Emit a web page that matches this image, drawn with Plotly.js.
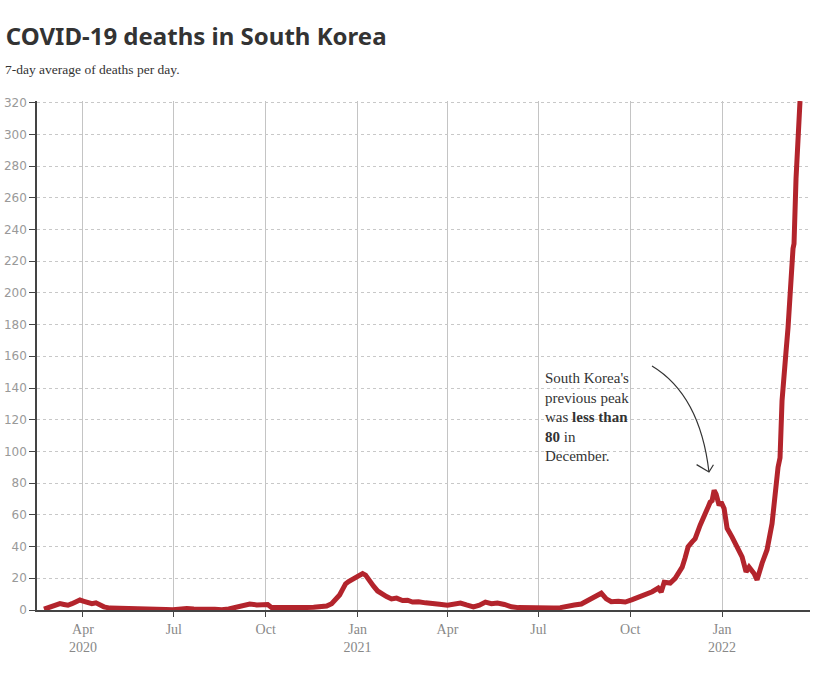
<!DOCTYPE html>
<html>
<head>
<meta charset="utf-8">
<script src="https://cdn.plot.ly/plotly-3.0.1.min.js"></script>
<style>
  html, body { margin: 0; padding: 0; background: #fff; }
  #chart { width: 832px; height: 674px; }
</style>
</head>
<body>
<div id="chart"></div>
<script>
// 7-day average of deaths per day
const dates = [
  '2020-02-22', '2020-02-26', '2020-03-01', '2020-03-05', '2020-03-09', '2020-03-13', '2020-03-17',
  '2020-03-21', '2020-03-25', '2020-03-29', '2020-04-02', '2020-04-06', '2020-04-10', '2020-04-14',
  '2020-04-18', '2020-04-22', '2020-04-28', '2020-05-05', '2020-05-12', '2020-05-19', '2020-05-26',
  '2020-06-02', '2020-06-09', '2020-06-16', '2020-06-23', '2020-06-30', '2020-07-07', '2020-07-14',
  '2020-07-21', '2020-07-28', '2020-08-04', '2020-08-11', '2020-08-18', '2020-08-25', '2020-09-01',
  '2020-09-08', '2020-09-15', '2020-09-22', '2020-09-29', '2020-10-03', '2020-10-07', '2020-10-14',
  '2020-10-21', '2020-10-28', '2020-11-04', '2020-11-11', '2020-11-18', '2020-11-25', '2020-12-01',
  '2020-12-06', '2020-12-11', '2020-12-14', '2020-12-17', '2020-12-20', '2020-12-23', '2020-12-27',
  '2020-12-31', '2021-01-03', '2021-01-06', '2021-01-09', '2021-01-13', '2021-01-17', '2021-01-21',
  '2021-01-25', '2021-01-30', '2021-02-04', '2021-02-09', '2021-02-15', '2021-02-20', '2021-02-25',
  '2021-03-03', '2021-03-10', '2021-03-17', '2021-03-24', '2021-04-01', '2021-04-07', '2021-04-14',
  '2021-04-20', '2021-04-27', '2021-05-03', '2021-05-09', '2021-05-15', '2021-05-21', '2021-05-28',
  '2021-06-04', '2021-06-11', '2021-06-18', '2021-06-25', '2021-07-02', '2021-07-09', '2021-07-16',
  '2021-07-23', '2021-07-30', '2021-08-06', '2021-08-13', '2021-08-20', '2021-08-26', '2021-09-02',
  '2021-09-07', '2021-09-12', '2021-09-19', '2021-09-26', '2021-10-03', '2021-10-09', '2021-10-16',
  '2021-10-23', '2021-10-29', '2021-11-01', '2021-11-04', '2021-11-10', '2021-11-15', '2021-11-19',
  '2021-11-22', '2021-11-25', '2021-11-28', '2021-12-02', '2021-12-05', '2021-12-10', '2021-12-15',
  '2021-12-18', '2021-12-20', '2021-12-22', '2021-12-24', '2021-12-26', '2021-12-29', '2021-12-31',
  '2022-01-03', '2022-01-06', '2022-01-11', '2022-01-16', '2022-01-21', '2022-01-25', '2022-01-28',
  '2022-02-02', '2022-02-05', '2022-02-10', '2022-02-15', '2022-02-20', '2022-02-23', '2022-02-26',
  '2022-02-28', '2022-03-02', '2022-03-06', '2022-03-08', '2022-03-13', '2022-03-14', '2022-03-16',
  '2022-03-20'
]
const deaths = [
  0.5, 1.5, 2.5, 3.5, 4, 3.5, 3,
  4, 5.5, 6.3, 5.5, 4.6, 4, 4.5,
  3, 2, 1.2, 1, 1.2, 0.6, 0.3,
  0.6, 0.4, 0.5, 0.3, 0.2, 0.8, 0.9,
  0.6, 0.8, 0.5, 0.4, 0.1, 0.6, 1.8,
  2.2, 3.8, 3.2, 3, 3.5, 1.5, 1.4,
  1.8, 1.2, 1.5, 1.6, 1.8, 2.2, 2.5,
  4, 7, 9.5, 13, 16.5, 18, 19.5,
  21, 22.5, 23, 22, 18, 15, 12,
  10, 8.5, 7, 7.5, 6, 6.2, 5,
  5.2, 4.5, 4.4, 3.6, 3, 3.4, 4.4,
  3.2, 2, 3, 5, 4, 4.4, 3.5,
  2, 1.5, 1.3, 1.2, 1.4, 1.3, 1.2,
  1.5, 2.6, 3.2, 3.8, 6, 7.8, 10.6,
  7, 5.2, 5.5, 5, 6.5, 7.8, 9.4,
  11.5, 13.8, 11.3, 17.5, 17, 20, 24,
  27, 33, 40, 43, 45, 53.5, 62,
  65, 68, 69, 75.5, 73, 66, 68,
  64, 51.5, 46, 39, 33.5, 24, 27,
  23, 19, 29.5, 38, 54.5, 75.5, 90,
  96, 132, 163, 178, 228, 231, 272,
  321
]

const xTickVals = ['2020-04-01', '2020-07-01', '2020-10-01', '2021-01-01', '2021-04-01', '2021-07-01', '2021-10-01', '2022-01-01']
const xTickText = ['Apr<br>2020', 'Jul', 'Oct', 'Jan<br>2021', 'Apr', 'Jul', 'Oct', 'Jan<br>2022']
const yTickVals = [0, 20, 40, 60, 80, 100, 120, 140, 160, 180, 200, 220, 240, 260, 280, 300, 320]

const SERIF = '"Liberation Serif", "DejaVu Serif", serif'
const LINE_COLOR = '#b3242c'

let data = [
  {
    x: dates,
    y: deaths,
    type: 'scatter',
    mode: 'lines',
    line: {
      color: LINE_COLOR,
      width: 5
    },
    hoverinfo: 'skip'
  }
]

// curved pointer from the note down to the December peak (paper coords)
const arrowCurve = 'M 0.7956 0.4794 Q 0.8577 0.4224 0.8693 0.2711'
const arrowHead = 'M 0.8533 0.2856 L 0.8693 0.2711 L 0.8751 0.2853'

let layout = {
  width: 832,
  height: 674,
  paper_bgcolor: '#fff',
  plot_bgcolor: '#fff',
  showlegend: false,
  margin: {
    l: 37,
    r: 22,
    t: 101,
    b: 64
  },
  title: {
    text: '<b>COVID-19 deaths in South Korea</b>',
    font: {
      family: '"Noto Sans", "Open Sans", sans-serif',
      size: 24,
      color: '#333'
    },
    x: 0.007,
    xanchor: 'left',
    xref: 'container',
    y: 0.945,
    yanchor: 'middle'
  },
  xaxis: {
    type: 'date',
    range: ['2020-02-15', '2022-03-30'],
    tickvals: xTickVals,
    ticktext: xTickText,
    showgrid: true,
    gridcolor: '#c4c4c4',
    gridwidth: 1,
    zeroline: false,
    showline: true,
    linecolor: '#444',
    linewidth: 1.5,
    ticks: 'outside',
    ticklen: 5,
    tickcolor: '#444',
    tickfont: {
      family: SERIF,
      size: 14,
      color: '#888'
    },
    fixedrange: true
  },
  yaxis: {
    range: [0, 321],
    tickvals: yTickVals,
    showgrid: true,
    gridcolor: '#c8c8c8',
    griddash: 'dot',
    gridwidth: 1,
    zeroline: false,
    showline: true,
    linecolor: '#444',
    linewidth: 1.5,
    ticks: 'outside',
    ticklen: 6,
    tickcolor: '#444',
    tickfont: {
      family: '"DejaVu Sans", Verdana, sans-serif',
      size: 12,
      color: '#999'
    },
    fixedrange: true
  },
  shapes: [
    {
      type: 'path',
      xref: 'paper',
      yref: 'paper',
      path: arrowCurve,
      line: { color: '#333', width: 1.2 }
    },
    {
      type: 'path',
      xref: 'paper',
      yref: 'paper',
      path: arrowHead,
      line: { color: '#333', width: 1.2 }
    }
  ],
  annotations: [
    {
      text: '7-day average of deaths per day.',
      xref: 'paper',
      yref: 'paper',
      x: -0.044,
      y: 1.061,
      xanchor: 'left',
      yanchor: 'middle',
      showarrow: false,
      font: {
        family: SERIF,
        size: 13.5,
        color: '#333'
      }
    },
    {
      text: "South Korea's<br>previous peak<br>was <b>less than</b><br><b>80</b> in<br>December.",
      xref: 'paper',
      yref: 'paper',
      x: 0.655,
      y: 0.475,
      xanchor: 'left',
      yanchor: 'top',
      align: 'left',
      showarrow: false,
      font: {
        family: SERIF,
        size: 15,
        color: '#333'
      }
    }
  ]
}

let config = {
  displayModeBar: false,
  responsive: false
}

Plotly.newPlot('chart', data, layout, config)
</script>
</body>
</html>
